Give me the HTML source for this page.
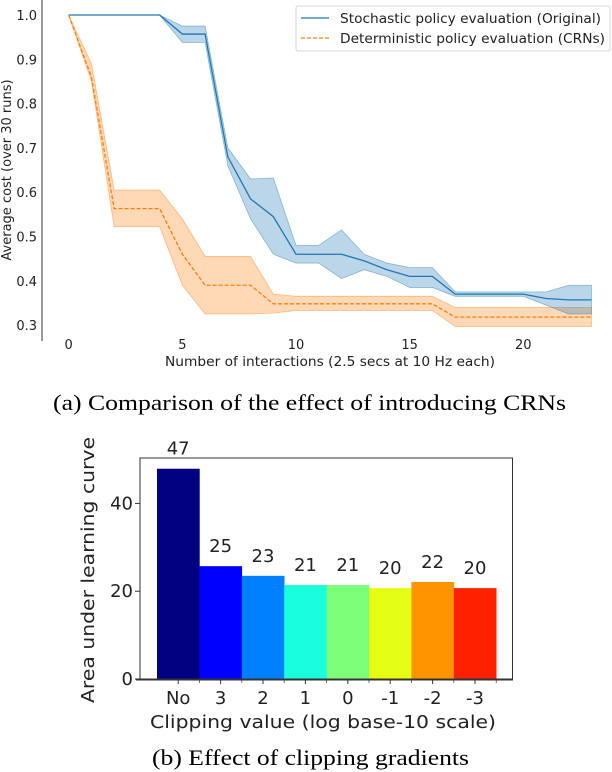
<!DOCTYPE html>
<html><head><meta charset="utf-8"><style>
body{margin:0;background:#fff;width:612px;height:772px;overflow:hidden}
svg{display:block}
text{font-family:"DejaVu Sans","Liberation Sans",sans-serif}
.cap{font-family:"Liberation Serif",serif;font-size:22px}
</style></head><body>
<svg id="s" width="612" height="772">
<text class="cap" x="53" y="410" textLength="513" lengthAdjust="spacingAndGlyphs">(a) Comparison of the effect of introducing CRNs</text>
<text class="cap" x="152" y="765" textLength="317" lengthAdjust="spacingAndGlyphs">(b) Effect of clipping gradients</text>
</svg>
<script>
const xs=[0,1,2,3,4,5,6,7,8,9,10,11,12,13,14,15,16,17,18,19,20,21,22,23];
const blueMean=[1,1,1,1,1,0.957,0.957,0.68,0.585,0.545,0.46,0.46,0.46,0.445,0.425,0.41,0.41,0.37,0.37,0.37,0.37,0.36,0.357,0.357];
const blueUp=[1,1,1,1,1,0.975,0.975,0.70,0.63,0.632,0.48,0.48,0.515,0.46,0.44,0.43,0.43,0.375,0.375,0.375,0.375,0.375,0.39,0.39];
const blueLo=[1,1,1,1,1,0.938,0.938,0.66,0.54,0.46,0.44,0.44,0.405,0.425,0.41,0.385,0.385,0.365,0.365,0.365,0.365,0.345,0.325,0.325];
const orMean=[1,0.86,0.563,0.563,0.563,0.46,0.39,0.39,0.39,0.348,0.348,0.348,0.348,0.348,0.348,0.348,0.348,0.318,0.318,0.318,0.318,0.318,0.318,0.318];
const orUp=[1,0.89,0.605,0.605,0.605,0.54,0.455,0.455,0.455,0.37,0.365,0.365,0.365,0.365,0.365,0.365,0.365,0.34,0.34,0.34,0.34,0.34,0.34,0.34];
const orLo=[1,0.85,0.522,0.522,0.522,0.39,0.325,0.325,0.325,0.327,0.333,0.333,0.333,0.333,0.333,0.333,0.333,0.297,0.297,0.297,0.297,0.297,0.297,0.297];
const yTicksA=[0.3,0.4,0.5,0.6,0.7,0.8,0.9,1.0];
const xTicksA=[0,5,10,15,20];
const cats=["No","3","2","1","0","-1","-2","-3"];
const vals=[47.9,25.7,23.5,21.4,21.4,20.7,22.1,20.7];
const barColors=["#000080","#0000ff","#0080ff","#19ffde","#7dff7a","#e4ff13","#ff9400","#ff2000"];
const yTicksB=[0,20,40];

const S=document.getElementById('s');const NS="http://www.w3.org/2000/svg";
function mk(t,a,txt){const e=document.createElementNS(NS,t);for(const k in a)e.setAttribute(k,a[k]);if(txt!==undefined)e.textContent=txt;S.appendChild(e);return e;}
const ax=x=>68.7+x*22.73, ay=y=>15+(1-y)*443;
function band(up,lo,fill,stroke,name){let d="M"+xs.map((x,i)=>ax(x)+","+ay(up[i])).join("L");for(let i=xs.length-1;i>=0;i--)d+="L"+ax(xs[i])+","+ay(lo[i]);d+="Z";
const e=mk('path',{d:d,fill:fill,stroke:stroke,'stroke-width':0.8});

}
band(orUp,orLo,"rgba(255,127,14,0.3)","rgba(255,127,14,0.45)","crn-band");
band(blueUp,blueLo,"rgba(31,119,180,0.3)","rgba(31,119,180,0.45)","original-band");
let e=mk('polyline',{points:xs.map((x,i)=>ax(x)+","+ay(blueMean[i])).join(" "),fill:"none",stroke:"#1f77b4","stroke-width":1.3});


e=mk('polyline',{points:xs.map((x,i)=>ax(x)+","+ay(orMean[i])).join(" "),fill:"none",stroke:"#ff7f0e","stroke-width":1.3,"stroke-dasharray":"4,2"});


mk('line',{x1:42,y1:0,x2:42,y2:341,stroke:"#000","stroke-width":0.8});
yTicksA.forEach(v=>{const t=mk('text',{x:37,y:ay(v)+5,'text-anchor':'end','font-size':13,fill:'#222'},v.toFixed(1));

});
xTicksA.forEach(v=>{const t=mk('text',{x:ax(v),y:349,'text-anchor':'middle','font-size':13,fill:'#222'},String(v));

});
e=mk('text',{x:165,y:366,'font-size':13,fill:'#222',textLength:330,lengthAdjust:'spacingAndGlyphs'},"Number of interactions (2.5 secs at 10 Hz each)");


e=mk('text',{x:0,y:0,'text-anchor':'middle','font-size':13,fill:'#222',transform:'translate(11,170) rotate(-90)'},"Average cost (over 30 runs)");


e=mk('rect',{x:296,y:6,width:314,height:45,fill:'#fff',stroke:'#ccc','stroke-width':0.8,rx:2});


mk('line',{x1:301,y1:18,x2:329,y2:18,stroke:'#1f77b4','stroke-width':1.3});
mk('line',{x1:301,y1:38,x2:329,y2:38,stroke:'#ff7f0e','stroke-width':1.3,'stroke-dasharray':'4,2'});
e=mk('text',{x:340,y:23,'font-size':13,fill:'#222',textLength:261,lengthAdjust:'spacingAndGlyphs'},"Stochastic policy evaluation (Original)");


e=mk('text',{x:340,y:43,'font-size':13,fill:'#222',textLength:265,lengthAdjust:'spacingAndGlyphs'},"Deterministic policy evaluation (CRNs)");



// bar chart
const by=v=>679-v*4.39, bx=i=>157+i*42.4, bw=42.4;
cats.forEach((c,i)=>{const r=mk('rect',{x:bx(i),y:by(vals[i]),width:bw+0.3,height:679-by(vals[i]),fill:barColors[i]});


const t=mk('text',{x:bx(i)+bw/2,y:by(vals[i])-14,'text-anchor':'middle','font-size':18,fill:'#222'},String(Math.floor(vals[i])));


mk('line',{x1:bx(i)+bw/2,y1:679,x2:bx(i)+bw/2,y2:684,stroke:'#333'});
mk('line',{x1:bx(i)+bw,y1:679,x2:bx(i)+bw,y2:683,stroke:'#333','stroke-width':0.7});
const l=mk('text',{x:bx(i)+bw/2,y:704,'text-anchor':'middle','font-size':18,fill:'#222'},c);

});
mk('rect',{x:140,y:458,width:372.5,height:221,fill:'none',stroke:'#333','stroke-width':1});
mk('line',{x1:136,y1:679.5,x2:513,y2:679.5,stroke:'#333','stroke-width':2});
yTicksB.forEach(v=>{mk('line',{x1:135,y1:by(v),x2:140,y2:by(v),stroke:'#333'});
const t=mk('text',{x:133,y:by(v)+6,'text-anchor':'end','font-size':18,fill:'#222'},String(v));

});
e=mk('text',{x:150,y:728,'font-size':18,fill:'#222',textLength:346,lengthAdjust:'spacingAndGlyphs'},"Clipping value (log base-10 scale)");


e=mk('text',{x:0,y:0,'font-size':18,fill:'#222',transform:'translate(94,703) rotate(-90)',textLength:266,lengthAdjust:'spacingAndGlyphs'},"Area under learning curve");


</script>
</body></html>
